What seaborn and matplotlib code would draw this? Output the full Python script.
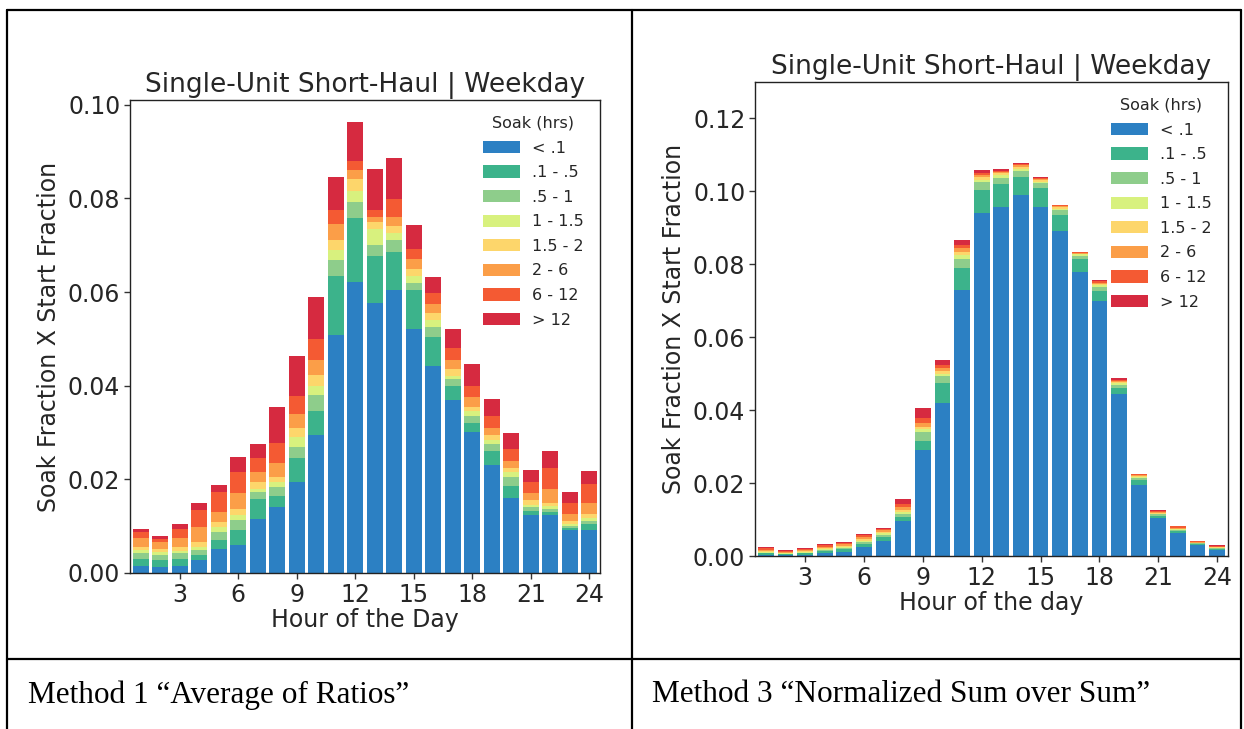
import matplotlib
matplotlib.use('Agg')
import matplotlib.pyplot as plt
import seaborn as sns
from matplotlib.lines import Line2D

# hour of the day for each bar
hours = list(range(1, 25))

soak_labels = ['< .1', '.1 - .5', '.5 - 1', '1 - 1.5', '1.5 - 2', '2 - 6', '6 - 12', '> 12']
soak_colors = ['#2c80c3', '#3cb38b', '#8ecd8b', '#d8f17e', '#fdd66b', '#fb9e48', '#f45a33', '#d62a40']

# Method 1: cumulative stack height at the top of each soak band
m1_lt_01 = [0.0016, 0.0013, 0.0016, 0.0027, 0.0052, 0.0060, 0.0116, 0.0140, 0.0195, 0.0295, 0.0509, 0.0622,
            0.0577, 0.0605, 0.0520, 0.0443, 0.0370, 0.0302, 0.0230, 0.0160, 0.0124, 0.0124, 0.0091, 0.0091]
m1_01_05 = [0.0030, 0.0027, 0.0030, 0.0038, 0.0070, 0.0091, 0.0159, 0.0165, 0.0245, 0.0345, 0.0634, 0.0759,
            0.0676, 0.0685, 0.0605, 0.0505, 0.0400, 0.0320, 0.0260, 0.0185, 0.0133, 0.0130, 0.0096, 0.0105]
m1_05_1 = [0.0042, 0.0038, 0.0042, 0.0049, 0.0088, 0.0113, 0.0173, 0.0184, 0.0270, 0.0380, 0.0669, 0.0792,
           0.0700, 0.0712, 0.0620, 0.0525, 0.0415, 0.0335, 0.0275, 0.0205, 0.0140, 0.0137, 0.0100, 0.0112]
m1_1_15 = [0.0049, 0.0045, 0.0047, 0.0056, 0.0098, 0.0123, 0.0180, 0.0195, 0.0290, 0.0400, 0.0690, 0.0815,
           0.0735, 0.0725, 0.0635, 0.0540, 0.0420, 0.0345, 0.0285, 0.0215, 0.0146, 0.0142, 0.0104, 0.0118]
m1_15_2 = [0.0056, 0.0052, 0.0056, 0.0066, 0.0109, 0.0137, 0.0195, 0.0206, 0.0310, 0.0423, 0.0712, 0.0841,
           0.0749, 0.0740, 0.0650, 0.0555, 0.0435, 0.0355, 0.0295, 0.0225, 0.0155, 0.0150, 0.0110, 0.0125]
m1_2_6 = [0.0074, 0.0066, 0.0074, 0.0098, 0.0130, 0.0170, 0.0216, 0.0235, 0.0340, 0.0455, 0.0745, 0.0860,
          0.0760, 0.0760, 0.0670, 0.0575, 0.0455, 0.0375, 0.0310, 0.0240, 0.0170, 0.0180, 0.0125, 0.0150]
m1_6_12 = [0.0088, 0.0073, 0.0095, 0.0134, 0.0173, 0.0216, 0.0245, 0.0278, 0.0377, 0.0500, 0.0775, 0.0880,
           0.0776, 0.0798, 0.0691, 0.0598, 0.0480, 0.0400, 0.0335, 0.0265, 0.0195, 0.0225, 0.0150, 0.0190]
m1_gt_12 = [0.0095, 0.0079, 0.0104, 0.0149, 0.0188, 0.0248, 0.0275, 0.0355, 0.0463, 0.0589, 0.0846, 0.0964,
            0.0862, 0.0886, 0.0744, 0.0632, 0.0521, 0.0446, 0.0371, 0.0298, 0.0220, 0.0261, 0.0172, 0.0218]

# Method 3: same, cumulative tops
m3_lt_01 = [0.0004, 0.0003, 0.0004, 0.0008, 0.0012, 0.0025, 0.0040, 0.0095, 0.0290, 0.0420, 0.0730, 0.0940,
            0.0957, 0.0990, 0.0957, 0.0890, 0.0780, 0.0698, 0.0445, 0.0195, 0.0105, 0.0062, 0.0030, 0.0016]
m3_01_05 = [0.0007, 0.0005, 0.0007, 0.0013, 0.0018, 0.0034, 0.0052, 0.0108, 0.0315, 0.0475, 0.0790, 0.1005,
            0.1020, 0.1040, 0.1010, 0.0935, 0.0815, 0.0728, 0.0462, 0.0208, 0.0111, 0.0068, 0.0033, 0.0019]
m3_05_1 = [0.0009, 0.0006, 0.0009, 0.0016, 0.0022, 0.0039, 0.0058, 0.0116, 0.0340, 0.0495, 0.0815, 0.1025,
           0.1038, 0.1055, 0.1022, 0.0948, 0.0824, 0.0738, 0.0470, 0.0213, 0.0114, 0.0071, 0.0035, 0.0021]
m3_1_15 = [0.0011, 0.0007, 0.0011, 0.0019, 0.0025, 0.0042, 0.0062, 0.0122, 0.0348, 0.0500, 0.0825, 0.1032,
           0.1044, 0.1062, 0.1027, 0.0953, 0.0827, 0.0742, 0.0474, 0.0216, 0.0116, 0.0073, 0.0036, 0.0022]
m3_15_2 = [0.0013, 0.0009, 0.0013, 0.0022, 0.0028, 0.0046, 0.0066, 0.0127, 0.0355, 0.0508, 0.0835, 0.1040,
           0.1050, 0.1067, 0.1031, 0.0957, 0.0829, 0.0746, 0.0478, 0.0219, 0.0118, 0.0075, 0.0037, 0.0024]
m3_2_6 = [0.0017, 0.0011, 0.0016, 0.0026, 0.0032, 0.0051, 0.0070, 0.0134, 0.0365, 0.0516, 0.0845, 0.1046,
          0.1054, 0.1071, 0.1034, 0.0960, 0.0831, 0.0750, 0.0481, 0.0221, 0.0120, 0.0078, 0.0039, 0.0026]
m3_6_12 = [0.0021, 0.0014, 0.0019, 0.0031, 0.0037, 0.0057, 0.0074, 0.0142, 0.0378, 0.0525, 0.0852, 0.1051,
           0.1057, 0.1074, 0.1036, 0.0962, 0.0833, 0.0753, 0.0484, 0.0224, 0.0123, 0.0081, 0.0041, 0.0028]
m3_gt_12 = [0.0024, 0.0016, 0.0021, 0.0033, 0.0039, 0.0060, 0.0078, 0.0155, 0.0407, 0.0537, 0.0866, 0.1058,
            0.1062, 0.1079, 0.1039, 0.0964, 0.0834, 0.0756, 0.0487, 0.0226, 0.0125, 0.0083, 0.0042, 0.0030]

title = 'Single-Unit Short-Haul | Weekday'
ylabel = 'Soak Fraction X Start Fraction'
captions = ['Method 1 \u201cAverage of Ratios\u201d', 'Method 3 \u201cNormalized Sum over Sum\u201d']

W, H = 1244, 729


def fx(x):
    return x / W


def fy(y):
    return 1 - y / H


def plot_stack(ax, bands, xlabel, ymax):
    # draw the tallest cumulative band first, smaller ones on top
    for cum, lab, col in reversed(list(zip(bands, soak_labels, soak_colors))):
        sns.barplot(x=hours, y=cum, color=col, saturation=1, width=0.8, native_scale=True,
                    errorbar=None, label=lab, linewidth=0, ax=ax)
    ax.set_xlim(0.45, 24.55)
    ax.set_ylim(0, ymax)
    ax.set_xticks([3, 6, 9, 12, 15, 18, 21, 24])
    ax.set_xticklabels(['3', '6', '9', '12', '15', '18', '21', '24'])
    ax.tick_params(labelsize=17, length=4, width=1, color='#333333', pad=3)
    ax.set_xlabel(xlabel, fontsize=17, labelpad=1)
    ax.set_ylabel(ylabel, fontsize=17, labelpad=5)
    ax.set_title(title, fontsize=19, pad=6)
    for s in ax.spines.values():
        s.set_color('#222222')
        s.set_linewidth(1)
    handles, labels = ax.get_legend_handles_labels()
    ax.legend(handles[::-1], labels[::-1], title='Soak (hrs)', loc='upper right', frameon=False,
              fontsize=11.5, title_fontsize=11.5, labelspacing=0.6, handlelength=2.3,
              handleheight=0.8, borderaxespad=0.6)


sns.set_style('ticks')
plt.rcParams['font.family'] = ['DejaVu Sans']

fig = plt.figure(figsize=(W / 100, H / 100), dpi=100)

ax1 = fig.add_axes([fx(130), fy(573), fx(600) - fx(130), fy(100) - fy(573)])
plot_stack(ax1, [m1_lt_01, m1_01_05, m1_05_1, m1_1_15, m1_15_2, m1_2_6, m1_6_12, m1_gt_12],
           'Hour of the Day', 0.101)
ax1.set_yticks([0.0, 0.02, 0.04, 0.06, 0.08, 0.10])
ax1.set_yticklabels(['0.00', '0.02', '0.04', '0.06', '0.08', '0.10'])

ax2 = fig.add_axes([fx(755), fy(556), fx(1228) - fx(755), fy(82) - fy(556)])
plot_stack(ax2, [m3_lt_01, m3_01_05, m3_05_1, m3_1_15, m3_15_2, m3_2_6, m3_6_12, m3_gt_12],
           'Hour of the day', 0.13)
ax2.set_yticks([0.0, 0.02, 0.04, 0.06, 0.08, 0.10, 0.12])
ax2.set_yticklabels(['0.00', '0.02', '0.04', '0.06', '0.08', '0.10', '0.12'])

# table grid around the two panels
lines = [((7, 10), (1241, 10)), ((7, 10), (7, 729)), ((1241, 10), (1241, 729)),
         ((632, 10), (632, 729)), ((7, 659), (1241, 659))]
for (x0, y0), (x1, y1) in lines:
    fig.add_artist(Line2D([fx(x0), fx(x1)], [fy(y0), fy(y1)], color='black', lw=1.6))

fig.text(fx(28), fy(695), captions[0], fontsize=22.5, family='Liberation Serif', va='center',
         color='black')
fig.text(fx(652), fy(695), captions[1], fontsize=22.5, family='Liberation Serif', va='center',
         color='black')

fig.savefig('out.png', dpi=100)
plt.close(fig)
